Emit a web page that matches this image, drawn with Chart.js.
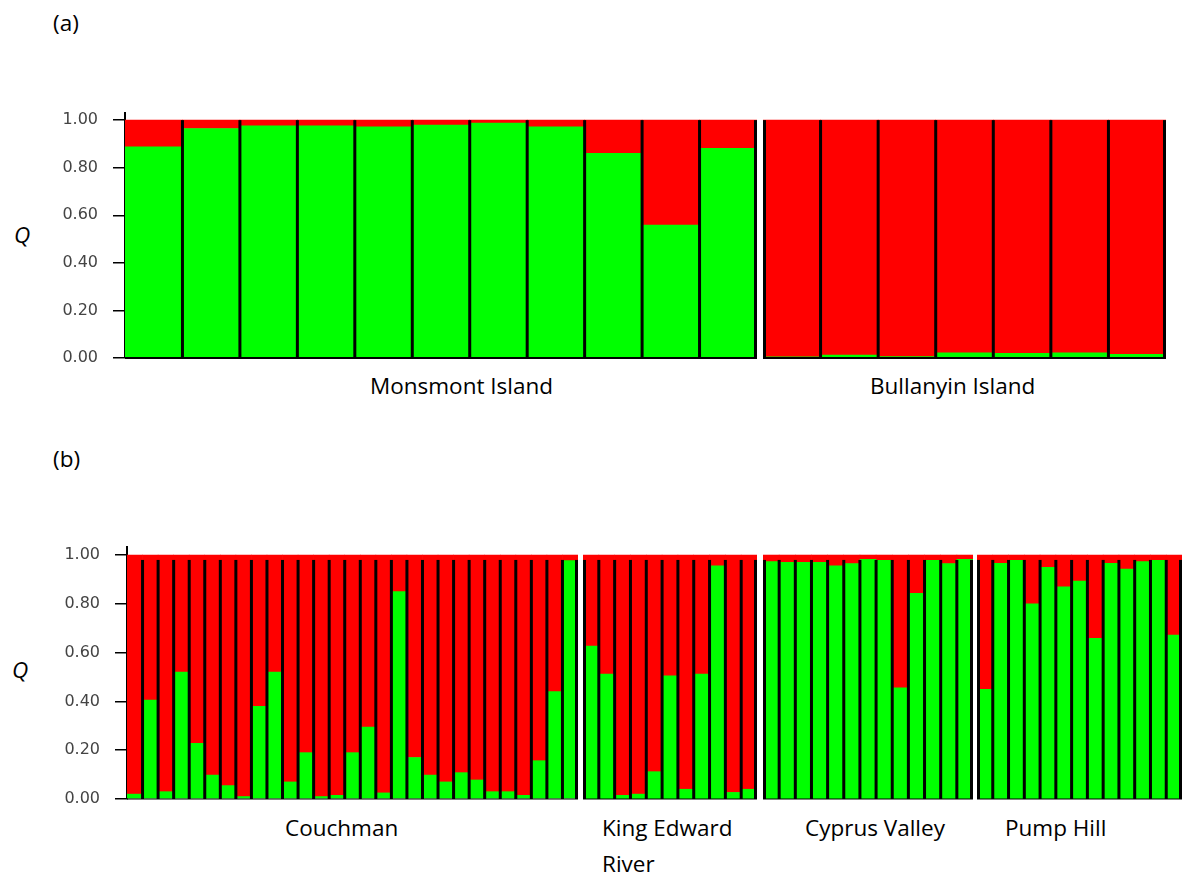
<!DOCTYPE html>
<html>
<head>
<meta charset="utf-8">
<script src="https://cdn.jsdelivr.net/npm/chart.js@4"></script>
<style>
  body { margin: 0; background: #fff; width: 1182px; height: 878px; position: relative; overflow: hidden;
         font-family: "Open Sans", "Liberation Sans", sans-serif; }
  canvas { position: absolute; }
  .lbl { position: absolute; font-size: 22.5px; line-height: 1; color: #000; white-space: nowrap; }
  .q { font-style: italic; }
</style>
</head>
<body>

<div class="lbl" style="left:53px;top:12px">(a)</div>
<div class="lbl q" style="left:14px;top:224px">Q</div>
<canvas id="monsmont" width="757" height="265" style="left:0;top:103px"></canvas>
<canvas id="bullanyin" width="403" height="265" style="left:763px;top:103px"></canvas>
<div class="lbl" style="left:370px;top:375px">Monsmont Island</div>
<div class="lbl" style="left:870px;top:375px">Bullanyin Island</div>

<div class="lbl" style="left:53px;top:448px">(b)</div>
<div class="lbl q" style="left:12px;top:659px">Q</div>
<canvas id="couchman" width="578" height="272" style="left:0;top:537px"></canvas>
<canvas id="kingEdward" width="174" height="272" style="left:583px;top:537px"></canvas>
<canvas id="cyprusValley" width="210" height="272" style="left:763px;top:537px"></canvas>
<canvas id="pumpHill" width="205" height="272" style="left:977px;top:537px"></canvas>
<div class="lbl" style="left:285px;top:817px">Couchman</div>
<div class="lbl" style="left:602px;top:817px">King Edward</div>
<div class="lbl" style="left:602px;top:853px">River</div>
<div class="lbl" style="left:805px;top:817px">Cyprus Valley</div>
<div class="lbl" style="left:1005px;top:817px">Pump Hill</div>

<script>
// Membership coefficient (Q) of each individual in the green cluster;
// the red cluster holds the remainder (1 - Q).
const monsmont     = [0.888, 0.965, 0.976, 0.976, 0.972, 0.979, 0.988, 0.972, 0.860, 0.559, 0.881];
const bullanyin    = [0.005, 0.012, 0.006, 0.022, 0.020, 0.022, 0.015];
const couchman     = [0.020, 0.405, 0.030, 0.520, 0.228, 0.098, 0.055, 0.010, 0.380, 0.520,
                      0.070, 0.190, 0.010, 0.015, 0.190, 0.295, 0.025, 0.850, 0.170, 0.098,
                      0.070, 0.108, 0.078, 0.030, 0.030, 0.015, 0.157, 0.440, 0.977];
const kingEdward   = [0.627, 0.512, 0.015, 0.020, 0.112, 0.505, 0.040, 0.512, 0.956, 0.027, 0.040];
const cyprusValley = [0.973, 0.970, 0.970, 0.970, 0.956, 0.965, 0.982, 0.978, 0.456, 0.843, 0.978, 0.965, 0.982];
const pumpHill     = [0.450, 0.966, 0.978, 0.800, 0.950, 0.870, 0.893, 0.659, 0.966, 0.943, 0.973, 0.978, 0.672];
const yTicks       = [0, 0.2, 0.4, 0.6, 0.8, 1.0];

const GREEN = '#00ff00';
const RED = '#ff0000';

// Black separators between individuals plus the baseline of each block.
const separators = {
  id: 'separators',
  afterDatasetsDraw(chart, args, o) {
    const { ctx, chartArea } = chart;
    const y = chart.scales.y;
    const meta = chart.getDatasetMeta(0);
    const n = meta.data.length;
    const yTop = y.getPixelForValue(o.top);
    const yBot = y.getPixelForValue(0);
    const w = o.width;
    ctx.save();
    ctx.fillStyle = '#000';
    for (let i = 0; i <= n; i++) {
      if (i === 0 && o.skipFirst) continue;
      let bx;
      if (i < n) bx = meta.data[i].x - meta.data[i].width / 2;
      else bx = meta.data[n - 1].x + meta.data[n - 1].width / 2;
      let x0 = bx - w / 2;
      if (i === 0) x0 = bx;
      if (i === n) x0 = bx - w;
      ctx.fillRect(x0, yTop, w, yBot - yTop);
    }
    if (o.baseline) {
      ctx.fillRect(chartArea.left, yBot - o.baseline / 2, chartArea.right - chartArea.left, o.baseline);
    }
    ctx.restore();
  }
};

function drawBlock(id, green, cfg) {
  const red = green.map(v => +(1 - v).toFixed(3));
  return new Chart(document.getElementById(id), {
    type: 'bar',
    data: {
      labels: green.map((_, i) => String(i + 1)),
      datasets: [
        { label: 'Cluster 2', data: green, backgroundColor: GREEN },
        { label: 'Cluster 1', data: red, backgroundColor: RED }
      ]
    },
    options: {
      responsive: false,
      animation: false,
      events: [],
      layout: { autoPadding: false, padding: { top: 10, bottom: 10, left: 0, right: 0 } },
      datasets: { bar: { barPercentage: 1, categoryPercentage: 1, borderWidth: 0 } },
      plugins: {
        legend: { display: false },
        tooltip: { enabled: false },
        separators: { top: cfg.sepTop, width: 3, skipFirst: cfg.axis, baseline: cfg.baseline }
      },
      scales: {
        x: { display: false, stacked: true },
        y: {
          display: cfg.axis,
          stacked: true,
          min: 0,
          max: cfg.max,
          afterFit: s => {
            s.width = cfg.axisWidth || 0;
            s.paddingTop = 0; s.paddingBottom = 0; s.paddingLeft = 0; s.paddingRight = 0;
          },
          afterBuildTicks: s => { s.ticks = yTicks.map(v => ({ value: v })); },
          ticks: {
            callback: v => Number(v).toFixed(2),
            font: { family: 'DejaVu Sans', size: 16 },
            color: '#444',
            padding: 15
          },
          grid: { drawOnChartArea: false, tickLength: 12, color: '#000', lineWidth: 1.5 },
          border: { color: '#000', width: 2 }
        }
      }
    },
    plugins: [separators]
  });
}

// (a)
drawBlock('monsmont', monsmont, { axis: true, axisWidth: 125, max: 1.03, sepTop: 1.0, baseline: 2 });
drawBlock('bullanyin', bullanyin, { axis: false, max: 1.03, sepTop: 1.0, baseline: 2 });

// (b)
drawBlock('couchman', couchman, { axis: true, axisWidth: 127, max: 1.033, sepTop: 0.98, baseline: 1 });
drawBlock('kingEdward', kingEdward, { axis: false, max: 1.033, sepTop: 0.98, baseline: 1 });
drawBlock('cyprusValley', cyprusValley, { axis: false, max: 1.033, sepTop: 0.98, baseline: 1 });
drawBlock('pumpHill', pumpHill, { axis: false, max: 1.033, sepTop: 0.98, baseline: 1 });
</script>
</body>
</html>
